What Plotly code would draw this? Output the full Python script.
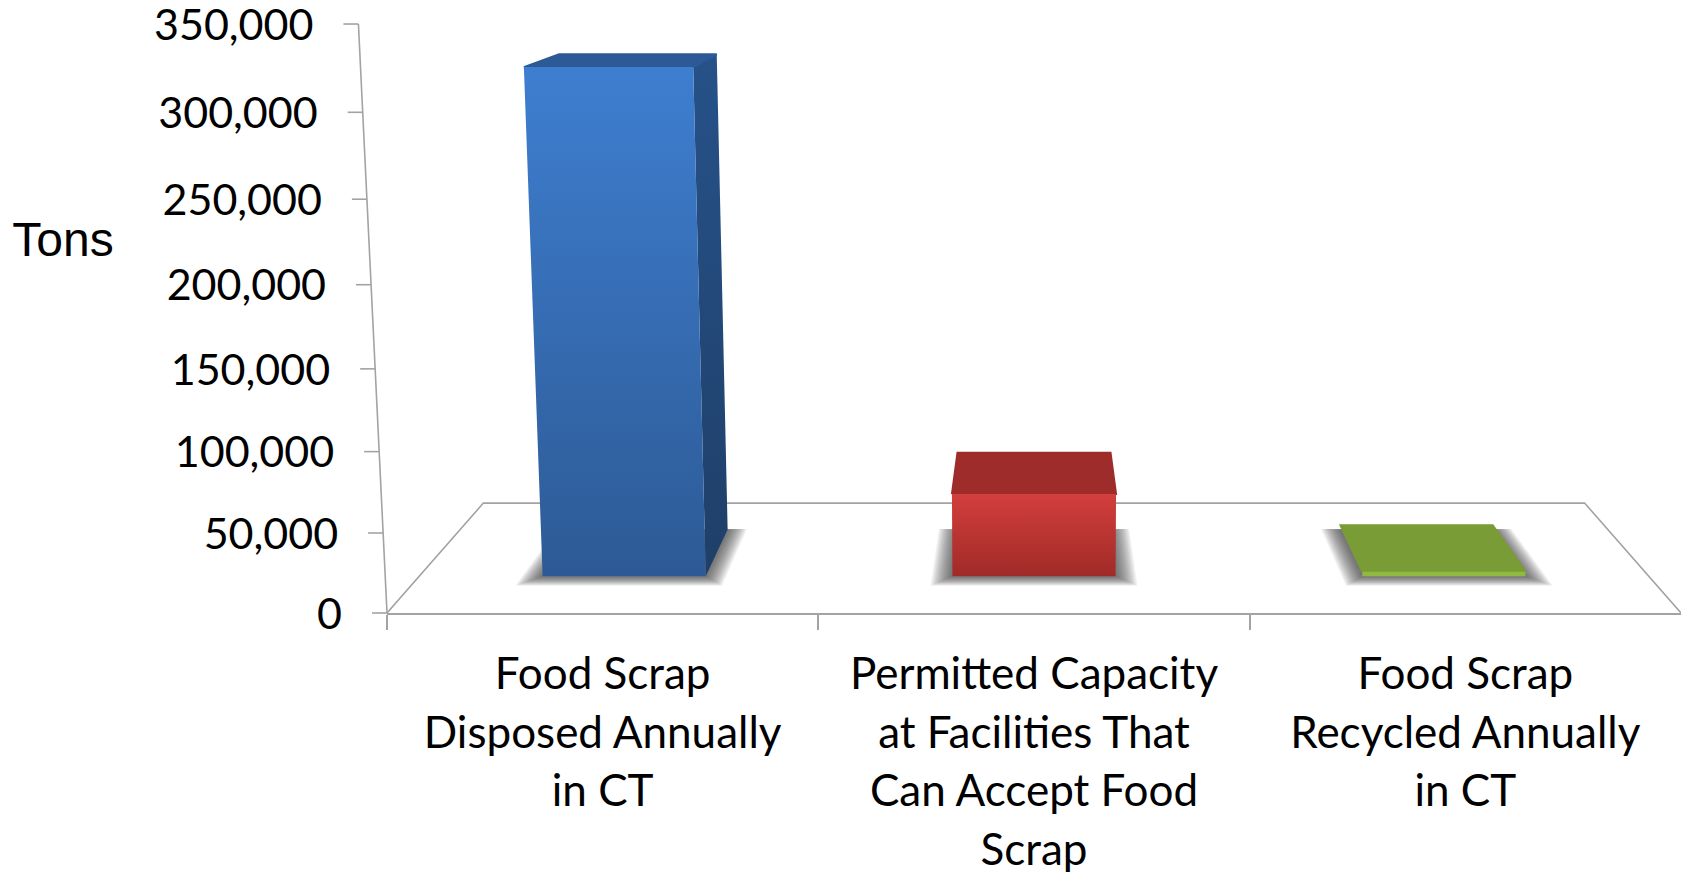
import plotly.graph_objects as go

# ---------- data ----------
categories = [
    "Food Scrap\nDisposed Annually\nin CT",
    "Permitted Capacity\nat Facilities That\nCan Accept Food\nScrap",
    "Food Scrap\nRecycled Annually\nin CT",
]
tons = [320000, 54000, 3000]
y_ticks = [0, 50000, 100000, 150000, 200000, 250000, 300000, 350000]
y_title = "Tons"

front_grad = [["#2d5a95", "#3e7ed0"], ["#a02a28", "#d33f3c"], ["#8fb93f", "#8fb93f"]]
side_grad = ["#1f3f68", "#265289"]
top_colors = ["#2c5a96", "#9d2c2a", "#7a9c36"]

# ---------- layout constants ----------
W, H = 1681, 872
L, T, B = 387, 24, 259          # real axis box (px from left, top, bottom)
PLOT_W, PLOT_H = W - L, H - T - B
Y_MAX = 350000
X_MAX = 3
PX_X = PLOT_W / X_MAX
PX_Y = PLOT_H / Y_MAX
GRAY = "#a3a3a3"
FONT = "Lato"
TICK_FS = 43
CAT_FS = 44


def data_x(px):
    return (px - L) / PX_X


def data_y(px):
    return (H - B - px) / PX_Y


# perspective of the 3-D box, expressed in axis units
HORIZON = -125
FLOOR_Y = H - B
CENTER = 1.5
D_FRONT, D_BACK = 0.30, 0.73
HALF = 0.199


def proj(u, v, d):
    """u: category position, v: tons, d: floor depth 0..1 -> axis coordinates."""
    s = 1 / (1 + 0.175 * d)
    w = v / 50000
    h = (79.31 * w + 0.69 * w * w) * s
    gy = HORIZON + (FLOOR_Y - HORIZON) * s
    gx = (u - CENTER) * s
    return CENTER + gx * (1 + 7.5e-5 * h), data_y(gy - h)


def poly(points):
    pts = [proj(*p) for p in points] + [proj(*points[0])]
    return [p[0] for p in pts], [p[1] for p in pts]


fig = go.Figure()
OV = dict(xaxis="x2", yaxis="y2", hoverinfo="skip", showlegend=False, cliponaxis=False)


def add_poly(points, color=None, grad=None, edge=0):
    xs, ys = poly(points)
    kw = dict(fillgradient=dict(type="vertical",
                                colorscale=[[0, grad[0]], [1, grad[1]]])) if grad else dict(fillcolor=color)
    line = dict(width=edge, color=color) if edge else dict(width=0)
    fig.add_trace(go.Scatter(x=xs, y=ys, mode="lines", fill="toself", line=line, **OV, **kw))


# floor outline on the real axes
fx, fy = poly([(0, 0, 0), (0, 0, 1), (3, 0, 1), (3, 0, 0)])
fig.add_trace(go.Scatter(x=fx[:4], y=fy[:4], mode="lines", line=dict(color=GRAY, width=1.6),
                         hoverinfo="skip", showlegend=False, cliponaxis=False))

# value axis line and ticks
ax_pts = [proj(0, v, 0) for v in y_ticks]
fig.add_trace(go.Scatter(x=[p[0] for p in ax_pts], y=[p[1] for p in ax_pts], mode="lines",
                         line=dict(color=GRAY, width=1.6), **OV))
tx, ty = [], []
for p in ax_pts:
    tx += [p[0] - 15 / PX_X, p[0], None]
    ty += [p[1], p[1], None]
fig.add_trace(go.Scatter(x=tx, y=ty, mode="lines", line=dict(color=GRAY, width=1.6), **OV))
fig.add_trace(go.Scatter(x=[p[0] - 45 / PX_X for p in ax_pts], y=[p[1] - 5 / PX_Y for p in ax_pts],
                         mode="text", text=[f"{v:,}" for v in y_ticks], textposition="middle left",
                         textfont=dict(family=FONT, size=TICK_FS, color="#000000"), **OV))

# bars
for i, v in enumerate(tons):
    c = i + 0.5
    a, b = c - HALF, c + HALF
    # soft shadow on the floor
    for k in range(14):
        e = 0.05 * (1 - k / 14)
        add_poly([(a - e, 0, D_FRONT - e * 1.6), (b + e, 0, D_FRONT - e * 1.6),
                  (b + e, 0, D_BACK + e * 0.1), (a - e, 0, D_BACK + e * 0.1)],
                 color="rgba(50,50,50,0.065)")
    if i == 0:
        add_poly([(b, 0, D_FRONT), (b, 0, D_BACK), (b, v, D_BACK), (b, v, D_FRONT)], grad=side_grad)
    add_poly([(a, v, D_FRONT), (b, v, D_FRONT), (b, v, D_BACK), (a, v, D_BACK)], color=top_colors[i], edge=2)
    add_poly([(a, 0, D_FRONT), (b, 0, D_FRONT), (b, v, D_FRONT), (a, v, D_FRONT)], grad=front_grad[i])

# category labels, one text mark per line
FIRST_LINE_PX, LINE_GAP_PX = 678, 58.6
lx, ly, lt = [], [], []
for i, cat in enumerate(categories):
    for j, line in enumerate(cat.split("\n")):
        lx.append(i + 0.5)
        ly.append(data_y(FIRST_LINE_PX + j * LINE_GAP_PX))
        lt.append(line)
fig.add_trace(go.Scatter(x=lx, y=ly, mode="text", text=lt, textposition="middle center",
                         textfont=dict(family=FONT, size=CAT_FS, color="#000000"), **OV))

fig.add_trace(go.Scatter(x=[data_x(63)], y=[data_y(244)], mode="text", text=[y_title],
                         textposition="middle center",
                         textfont=dict(family="Liberation Sans", size=48, color="#000000"), **OV))

fig.update_layout(
    width=W, height=H, autosize=False,
    margin=dict(l=0, r=0, t=0, b=0, pad=0),
    paper_bgcolor="white", plot_bgcolor="rgba(0,0,0,0)", showlegend=False,
    xaxis=dict(domain=[L / W, 1], range=[0, X_MAX], showgrid=False, zeroline=False, showline=True,
               linecolor=GRAY, linewidth=1.6, ticks="outside", ticklen=15, tickwidth=1.6,
               tickcolor=GRAY, tickvals=[0, 1, 2], showticklabels=False, fixedrange=True),
    yaxis=dict(domain=[B / H, 1 - T / H], range=[0, Y_MAX], visible=False, fixedrange=True),
    xaxis2=dict(domain=[0, 1], range=[data_x(0), data_x(W)], visible=False, fixedrange=True, anchor="y2"),
    yaxis2=dict(domain=[0, 1], range=[data_y(H), data_y(0)], visible=False, fixedrange=True, anchor="x2"),
)
fig.write_html("out.html", config={"displayModeBar": False},
               post_script="document.body.style.margin='0';document.documentElement.style.overflow='hidden';")
